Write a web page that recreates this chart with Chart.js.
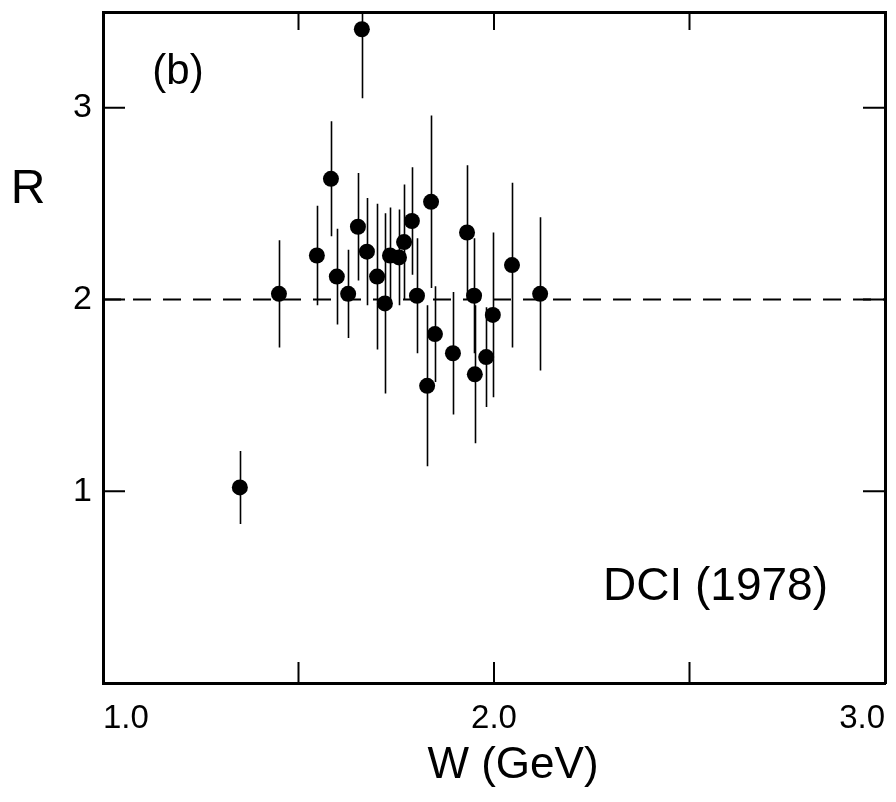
<!DOCTYPE html>
<html><head><meta charset="utf-8">
<script src="https://cdn.jsdelivr.net/npm/chart.js@4"></script>
<style>html,body{margin:0;padding:0;background:#fff}#wrap{width:896px;height:802px;position:relative}</style>
</head><body><div id="wrap"><canvas id="c"></canvas></div>
<script>
// W (GeV) values, R values and symmetric errors
const W  = [1.350,1.450,1.547,1.583,1.598,1.627,1.652,1.662,1.675,1.701,1.721,1.734,1.757,1.770,1.790,1.803,1.829,1.839,1.849,1.895,1.931,1.949,1.951,1.980,1.997,2.046,2.118];
const R  = [1.02, 2.03, 2.23, 2.63, 2.12, 2.03, 2.38, 3.41, 2.25, 2.12, 1.98, 2.23, 2.22, 2.30, 2.41, 2.02, 1.55, 2.51, 1.82, 1.72, 2.35, 2.02, 1.61, 1.70, 1.92, 2.18, 2.03];
const dR = [0.19, 0.28, 0.26, 0.30, 0.25, 0.23, 0.28, 0.36, 0.28, 0.38, 0.47, 0.25, 0.25, 0.30, 0.28, 0.30, 0.42, 0.45, 0.25, 0.32, 0.35, 0.30, 0.36, 0.26, 0.43, 0.43, 0.40];
const refLineW = [1.0, 3.0];
const refLineR = [2, 2];
const xTickValues = [1, 2, 3];
const xTickLabels = ['1.0', '2.0', '3.0'];
const yTickValues = [1, 2, 3];
const yTickLabels = ['1', '2', '3'];
const xInnerTicks = [1.5, 2.0, 2.5];
const yInnerTicks = [1, 2, 3];
const xRange = [1, 3];
const yRange = [0, 3.5];
const xTitle = 'W (GeV)';
const yTitle = 'R';
const panelLabel = '(b)';
const expLabel = 'DCI (1978)';

const FONT = '"Liberation Sans", Arial, sans-serif';

function noPad(s) { s.paddingTop = 0; s.paddingBottom = 0; s.paddingLeft = 0; s.paddingRight = 0; }

const decor = {
  id: 'decor',
  beforeDatasetsDraw(chart) {
    const {ctx, chartArea: a, scales: {x, y}} = chart;
    ctx.save();
    ctx.beginPath(); ctx.rect(a.left, a.top, a.right - a.left, a.bottom - a.top); ctx.clip();
    ctx.strokeStyle = '#000'; ctx.lineWidth = 1.6;
    ctx.beginPath();
    W.forEach((w, i) => {
      const px = Math.round(x.getPixelForValue(w)) + 0.5;
      ctx.moveTo(px, y.getPixelForValue(R[i] - dR[i]));
      ctx.lineTo(px, y.getPixelForValue(R[i] + dR[i]));
    });
    ctx.stroke();
    ctx.restore();
  },
  afterDraw(chart) {
    const {ctx, chartArea: a, scales: {x, y}} = chart;
    ctx.save();
    ctx.strokeStyle = '#000'; ctx.lineWidth = 2;
    ctx.beginPath();
    xInnerTicks.forEach(v => {
      const p = x.getPixelForValue(v);
      ctx.moveTo(p, a.bottom); ctx.lineTo(p, a.bottom - 21);
      ctx.moveTo(p, a.top); ctx.lineTo(p, a.top + 18);
    });
    yInnerTicks.forEach(v => {
      const p = y.getPixelForValue(v);
      ctx.moveTo(a.left, p); ctx.lineTo(a.left + 22, p);
      ctx.moveTo(a.right, p); ctx.lineTo(a.right - 22, p);
    });
    ctx.stroke();
    ctx.fillStyle = '#000';
    ctx.textAlign = 'center'; ctx.textBaseline = 'middle';
    ctx.font = '48px ' + FONT;
    ctx.fillText(yTitle, 28, 190);
    ctx.font = '44px ' + FONT;
    ctx.fillText(xTitle, 513, 766);
    ctx.font = '42px ' + FONT;
    ctx.fillText(panelLabel, 178, 72);
    ctx.textAlign = 'left';
    ctx.font = '46px ' + FONT;
    ctx.fillText(expLabel, 603, 587);
    ctx.restore();
  }
};

new Chart(document.getElementById('c'), {
  type: 'scatter',
  data: {
    datasets: [
      {
        label: 'R',
        data: W.map((w, i) => ({x: w, y: R[i]})),
        pointRadius: 8, pointHoverRadius: 8,
        pointBackgroundColor: '#000', pointBorderWidth: 0,
        order: 1
      },
      {
        label: 'R = 2',
        data: refLineW.map((w, i) => ({x: w, y: refLineR[i]})),
        showLine: true, pointRadius: 0,
        borderColor: '#000', borderWidth: 2, borderDash: [18, 12],
        order: 2
      }
    ]
  },
  options: {
    responsive: true, maintainAspectRatio: false, animation: false,
    layout: {padding: 0, autoPadding: false},
    plugins: {legend: {display: false}, tooltip: {enabled: false}},
    scales: {
      x: {
        type: 'linear', position: 'bottom', min: xRange[0], max: xRange[1],
        afterFit(s) { s.height = 119; noPad(s); },
        afterBuildTicks(s) { s.ticks = xTickValues.map(v => ({value: v})); },
        ticks: {
          autoSkip: false, maxRotation: 0, align: 'inner', padding: 16, color: '#000',
          font: {family: FONT, size: 33},
          callback: v => { const i = xTickValues.indexOf(v); return i >= 0 ? xTickLabels[i] : ''; }
        },
        grid: {display: false, drawTicks: false},
        border: {display: true, color: '#000', width: 3}
      },
      y: {
        type: 'linear', position: 'left', min: yRange[0], max: yRange[1],
        afterFit(s) { s.width = 103; noPad(s); },
        afterBuildTicks(s) { s.ticks = yTickValues.map(v => ({value: v})); },
        ticks: {
          autoSkip: false, padding: 11, color: '#000',
          font: {family: FONT, size: 34},
          callback: v => { const i = yTickValues.indexOf(v); return i >= 0 ? yTickLabels[i] : ''; }
        },
        grid: {display: false, drawTicks: false},
        border: {display: true, color: '#000', width: 3}
      },
      x2: {
        type: 'linear', position: 'top', min: xRange[0], max: xRange[1],
        afterFit(s) { s.height = 12; noPad(s); },
        ticks: {display: false},
        grid: {display: false, drawTicks: false},
        border: {display: true, color: '#000', width: 3}
      },
      y2: {
        type: 'linear', position: 'right', min: yRange[0], max: yRange[1],
        afterFit(s) { s.width = 11; noPad(s); },
        ticks: {display: false},
        grid: {display: false, drawTicks: false},
        border: {display: true, color: '#000', width: 3}
      }
    }
  },
  plugins: [decor]
});
</script>
</body></html>
